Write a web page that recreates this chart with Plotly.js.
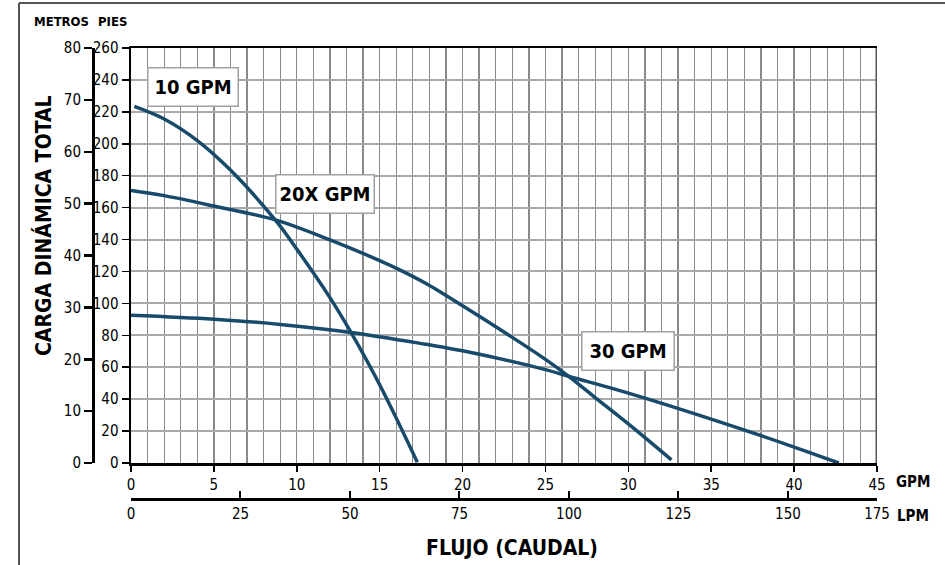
<!DOCTYPE html>
<html>
<head>
<meta charset="utf-8">
<script src="https://cdn.plot.ly/plotly-3.0.1.min.js"></script>
<style>html,body{margin:0;padding:0;background:#fff;}#chart{width:945px;height:565px;}</style>
</head>
<body>
<div id="chart"></div>
<script>
// ---- data (GPM vs. total dynamic head in feet) ----
const curveNames = ['10 GPM', '20X GPM', '30 GPM'];
const gpm10 = [0.2, 2, 4, 6, 8.7, 10, 12, 13.27, 15, 17.27];
const ft10  = [223.4, 215.5, 202, 183.5, 152.3, 134, 103.6, 81.8, 49, 0.5];
const gpm20x = [0, 2, 5, 8.7, 12, 15, 16.27, 17.77, 20, 23, 25, 26.44, 28, 30, 32.6];
const ft20x  = [170.7, 167.5, 161, 152.3, 139.8, 126.8, 120.7, 112.6, 98.5, 78.7, 64.9, 54, 41, 24.5, 2];
const gpm30 = [0, 5, 9, 13.27, 17.77, 20, 25, 26.44, 30, 35, 40, 42.7];
const ft30  = [92.6, 90.1, 86.8, 81.8, 74.4, 70.3, 58.5, 54.2, 43.8, 27.5, 10, 0];

const gpmTicks = [0, 5, 10, 15, 20, 25, 30, 35, 40, 45];
const piesTicks = [0, 20, 40, 60, 80, 100, 120, 140, 160, 180, 200, 220, 240, 260];
const metrosTicks = [0, 10, 20, 30, 40, 50, 60, 70, 80];
const lpmTickVals = [0, 25, 50, 75, 100, 125, 150, 170.34];
const lpmTickText = ['0', '25', '50', '75', '100', '125', '150', '175'];
const gpmMax = 45, lpmMax = 170.34, piesMax = 260, metrosMax = 80;
const LPM_PER_GPM = 3.78541, FT_PER_M = 3.28084;

// ---- chart ----
const FONT = 'DejaVu Sans Condensed';
const W = 945, H = 565;
const px = v => v / W, py = v => 1 - v / H;
const curveColor = '#174a6b';

const mk = (x, y, name) => ({
  type: 'scatter', mode: 'lines', x: x, y: y, name: name,
  line: {color: curveColor, width: 3.5, shape: 'spline', smoothing: 1},
  hoverinfo: 'skip', cliponaxis: false
});
const traces = [mk(gpm10, ft10, curveNames[0]), mk(gpm20x, ft20x, curveNames[1]), mk(gpm30, ft30, curveNames[2])];
// invisible companions so the LPM and METROS axes are drawn
traces.push({type: 'scatter', mode: 'lines', x: gpm30.map(g => g * LPM_PER_GPM), y: ft30, xaxis: 'x2', yaxis: 'y', opacity: 0, hoverinfo: 'skip', showlegend: false});
traces.push({type: 'scatter', mode: 'lines', x: gpm30, y: ft30.map(f => f / FT_PER_M), xaxis: 'x', yaxis: 'y2', opacity: 0, hoverinfo: 'skip', showlegend: false});

const plotL = 131, plotR = 877, plotT = 48, plotB = 463;
const xDom = [px(plotL), px(plotR)];

const boxLabel = (text, x, y, w) => ({
  text: text, x: x, y: y, xref: 'x', yref: 'y', showarrow: false,
  font: {family: FONT, size: 20, color: '#000', weight: 'bold'},
  bgcolor: '#fff', bordercolor: '#a0a0a0', borderwidth: 1.5, borderpad: 0,
  width: w, height: 37, xanchor: 'center', yanchor: 'middle'
});
const paperText = (text, x, y, size, extra) => Object.assign({
  text: text, x: px(x), y: py(y), xref: 'paper', yref: 'paper', showarrow: false,
  font: {family: FONT, size: size, color: '#000', weight: 'bold'},
  xanchor: 'center', yanchor: 'middle'
}, extra || {});

const tickFont = {family: FONT, size: 15, color: '#000'};

const layout = {
  width: W, height: H,
  margin: {l: 0, r: 0, t: 0, b: 0},
  paper_bgcolor: '#fff', plot_bgcolor: '#fff',
  showlegend: false,
  xaxis: {
    domain: xDom, range: [0, gpmMax], tickvals: gpmTicks, ticks: 'outside', ticklen: 6, tickwidth: 1.5, tickcolor: '#000',
    showline: true, linecolor: '#000', linewidth: 2.5, mirror: true,
    showgrid: true, gridcolor: '#8a8a8a', gridwidth: 1.3, zeroline: false,
    minor: {dtick: 1, showgrid: true, gridcolor: '#8a8a8a', gridwidth: 1.3, ticks: ''},
    tickfont: tickFont, fixedrange: true
  },
  yaxis: {
    domain: [py(plotB), py(plotT)], range: [0, piesMax], tickvals: piesTicks, ticks: 'outside', ticklen: 7, tickwidth: 1.5, tickcolor: '#000',
    showline: true, linecolor: '#000', linewidth: 2.5,
    showgrid: true, gridcolor: '#aaaaaa', gridwidth: 2, zeroline: false,
    tickfont: tickFont, fixedrange: true
  },
  xaxis2: {
    overlaying: 'x', anchor: 'free', position: py(499), range: [0, lpmMax], side: 'bottom',
    tickvals: lpmTickVals, ticktext: lpmTickText, ticks: 'inside', ticklen: 7, tickwidth: 2, tickcolor: '#000',
    showline: true, linecolor: '#000', linewidth: 2.5, showgrid: false, zeroline: false,
    tickfont: tickFont, fixedrange: true
  },
  yaxis2: {
    overlaying: 'y', anchor: 'free', position: px(93), range: [0, metrosMax], side: 'left',
    tickvals: metrosTicks, ticks: 'outside', ticklen: 8, tickwidth: 2.5, tickcolor: '#000',
    showline: true, linecolor: '#000', linewidth: 2.5, showgrid: false, zeroline: false,
    tickfont: tickFont, fixedrange: true
  },
  shapes: [
    {type: 'line', xref: 'x', yref: 'y domain', x0: gpmMax, x1: gpmMax, y0: 0, y1: 1, line: {color: '#555', width: 3}},
    {type: 'line', xref: 'paper', yref: 'paper', x0: px(19), x1: 1.01, y0: py(3), y1: py(3), line: {color: '#555', width: 2}},
    {type: 'line', xref: 'paper', yref: 'paper', x0: px(19), x1: px(19), y0: py(3), y1: -0.01, line: {color: '#555', width: 2}}
  ],
  annotations: [
    boxLabel(curveNames[0], 3.73, 235.5, 89),
    boxLabel(curveNames[1], 11.72, 168.3, 97),
    boxLabel(curveNames[2], 29.95, 70.2, 91),
    paperText('METROS', 61, 21, 13),
    paperText('PIES', 112, 21, 13),
    paperText('CARGA DINÁMICA TOTAL', 43, 226, 21, {textangle: -90}),
    paperText('FLUJO (CAUDAL)', 512, 548, 21),
    paperText('GPM', 913, 482, 15),
    paperText('LPM', 913, 516, 15)
  ]
};

Plotly.newPlot('chart', traces, layout, {staticPlot: true, displayModeBar: false});
</script>
</body>
</html>
